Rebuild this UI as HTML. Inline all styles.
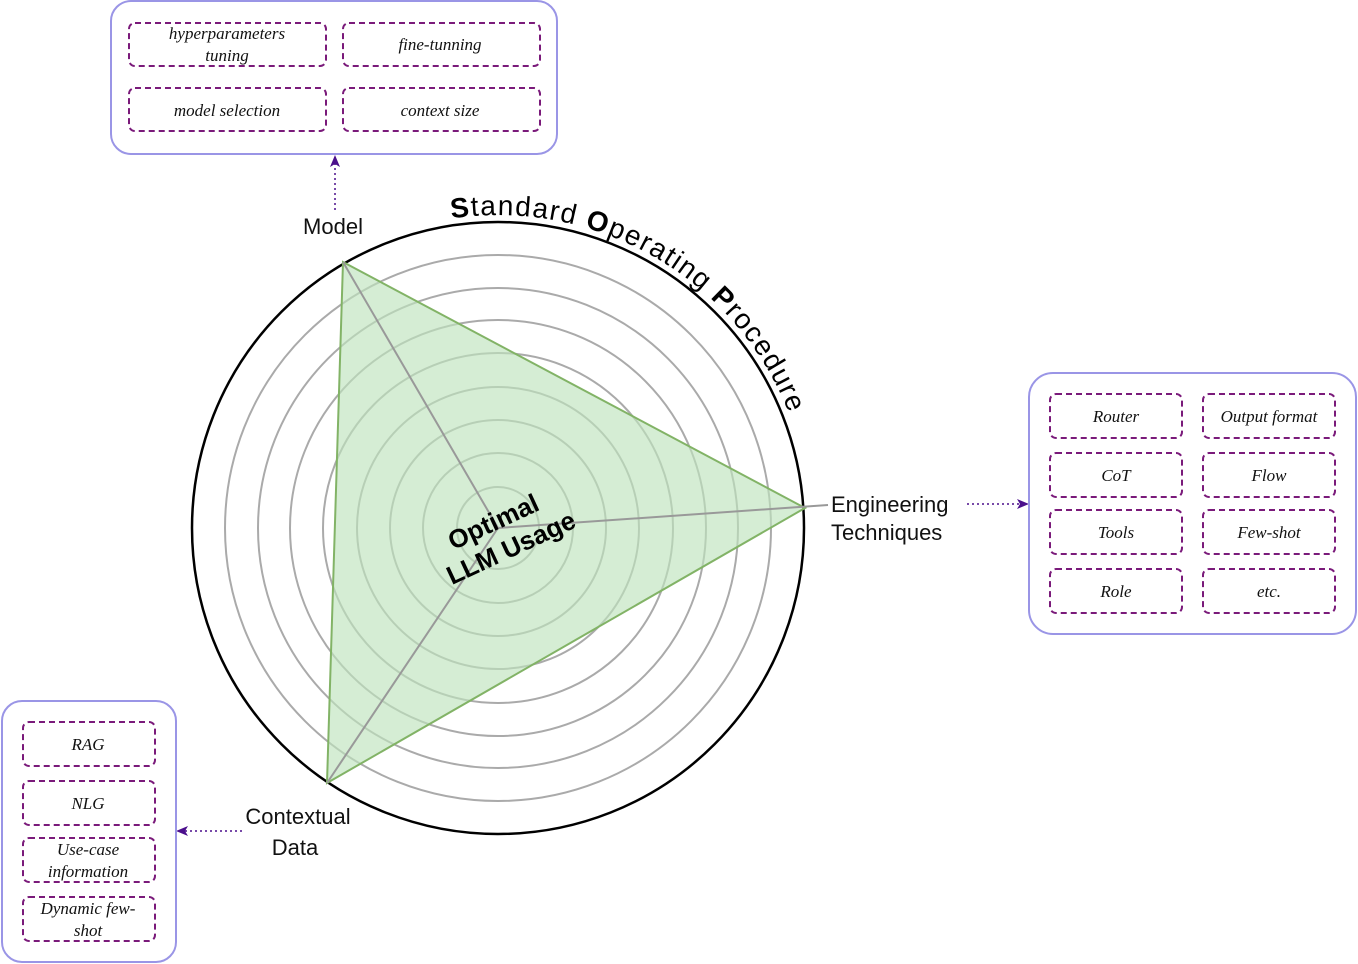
<!DOCTYPE html>
<html><head><meta charset="utf-8"><style>
html,body{margin:0;padding:0;background:#fff;}
svg{display:block;}
.it{font-family:"Liberation Serif",serif;font-style:italic;font-size:17px;fill:#111;text-anchor:middle;}
.lb{font-family:"Liberation Sans",sans-serif;font-size:22px;fill:#111;}
.db{fill:none;stroke:#7a1a7a;stroke-width:2;stroke-dasharray:6,4;}
.ob{fill:#fff;stroke:#9a95e6;stroke-width:2;}
</style></head><body>
<svg width="1358" height="964" viewBox="0 0 1358 964" xmlns="http://www.w3.org/2000/svg">
<defs>
<marker id="ah" markerWidth="12" markerHeight="10" refX="10" refY="5" orient="auto" markerUnits="userSpaceOnUse">
<path d="M0,0 L12,5 L0,10 L3,5 Z" fill="#4b0f8c"/></marker>
<path id="arc" d="M443.6,219.8 A313,313 0 0 1 806,473.6" fill="none"/>
</defs>
<!-- main circle -->
<circle cx="498" cy="528" r="306" fill="#fff" stroke="#000" stroke-width="2.5"/>
<g fill="none" stroke="#aaa" stroke-width="2">
<circle cx="498" cy="528" r="273"/><circle cx="498" cy="528" r="240"/>
<circle cx="498" cy="528" r="208"/><circle cx="498" cy="528" r="175"/>
<circle cx="498" cy="528" r="141"/><circle cx="498" cy="528" r="108"/>
<circle cx="498" cy="528" r="75"/><circle cx="498" cy="528" r="41"/>
</g>
<polygon points="343,262 805,508 327,783" fill="#bfe3bd" fill-opacity="0.65" stroke="#82b366" stroke-width="2"/>
<g stroke="#999" stroke-width="2">
<line x1="498" y1="528" x2="343" y2="262"/>
<line x1="498" y1="528" x2="828" y2="505"/>
<line x1="498" y1="528" x2="327" y2="783"/>
</g>
<text font-family="Liberation Sans,sans-serif" font-size="28" fill="#000"><textPath href="#arc" startOffset="8" textLength="420" lengthAdjust="spacing"><tspan font-weight="bold">S</tspan>tandard <tspan font-weight="bold">O</tspan>perating <tspan font-weight="bold">P</tspan>rocedure</textPath></text>
<g transform="rotate(-25 505 535)" font-family="Liberation Sans,sans-serif" font-weight="bold" font-size="26" text-anchor="middle" fill="#000">
<text x="500" y="527">Optimal</text>
<text x="505" y="558">LLM Usage</text>
</g>
<!-- labels -->
<text class="lb" x="333" y="234" text-anchor="middle">Model</text>
<text class="lb" x="831" y="512">Engineering</text>
<text class="lb" x="831" y="540">Techniques</text>
<text class="lb" x="298" y="824" text-anchor="middle">Contextual</text>
<text class="lb" x="295" y="855" text-anchor="middle">Data</text>
<!-- connectors -->
<g stroke="#4b0f8c" stroke-width="1.5" stroke-dasharray="2,3" fill="none">
<line x1="335" y1="210" x2="335" y2="157" marker-end="url(#ah)"/>
<line x1="967" y1="504" x2="1027" y2="504" marker-end="url(#ah)"/>
<line x1="242" y1="831" x2="178" y2="831" marker-end="url(#ah)"/>
</g>
<!-- top box -->
<rect class="ob" x="111" y="1" width="446" height="153" rx="20"/>
<rect class="db" x="129" y="23" width="197" height="43" rx="6"/>
<rect class="db" x="343" y="23" width="197" height="43" rx="6"/>
<rect class="db" x="129" y="88" width="197" height="43" rx="6"/>
<rect class="db" x="343" y="88" width="197" height="43" rx="6"/>
<text class="it" x="227" y="39">hyperparameters</text>
<text class="it" x="227" y="61">tuning</text>
<text class="it" x="440" y="50">fine-tunning</text>
<text class="it" x="227" y="116">model selection</text>
<text class="it" x="440" y="116">context size</text>
<!-- right box -->
<rect class="ob" x="1029" y="373" width="327" height="261" rx="24"/>
<rect class="db" x="1050" y="394" width="132" height="44" rx="6"/>
<rect class="db" x="1203" y="394" width="132" height="44" rx="6"/>
<rect class="db" x="1050" y="453" width="132" height="44" rx="6"/>
<rect class="db" x="1203" y="453" width="132" height="44" rx="6"/>
<rect class="db" x="1050" y="510" width="132" height="44" rx="6"/>
<rect class="db" x="1203" y="510" width="132" height="44" rx="6"/>
<rect class="db" x="1050" y="569" width="132" height="44" rx="6"/>
<rect class="db" x="1203" y="569" width="132" height="44" rx="6"/>
<text class="it" x="1116" y="422">Router</text>
<text class="it" x="1269" y="422">Output format</text>
<text class="it" x="1116" y="481">CoT</text>
<text class="it" x="1269" y="481">Flow</text>
<text class="it" x="1116" y="538">Tools</text>
<text class="it" x="1269" y="538">Few-shot</text>
<text class="it" x="1116" y="597">Role</text>
<text class="it" x="1269" y="597">etc.</text>
<!-- left box -->
<rect class="ob" x="2" y="701" width="174" height="261" rx="20"/>
<rect class="db" x="23" y="722" width="132" height="44" rx="6"/>
<rect class="db" x="23" y="781" width="132" height="44" rx="6"/>
<rect class="db" x="23" y="838" width="132" height="44" rx="6"/>
<rect class="db" x="23" y="897" width="132" height="44" rx="6"/>
<text class="it" x="88" y="750">RAG</text>
<text class="it" x="88" y="809">NLG</text>
<text class="it" x="88" y="855">Use-case</text>
<text class="it" x="88" y="877">information</text>
<text class="it" x="88" y="914">Dynamic few-</text>
<text class="it" x="88" y="936">shot</text>
</svg>
</body></html>
